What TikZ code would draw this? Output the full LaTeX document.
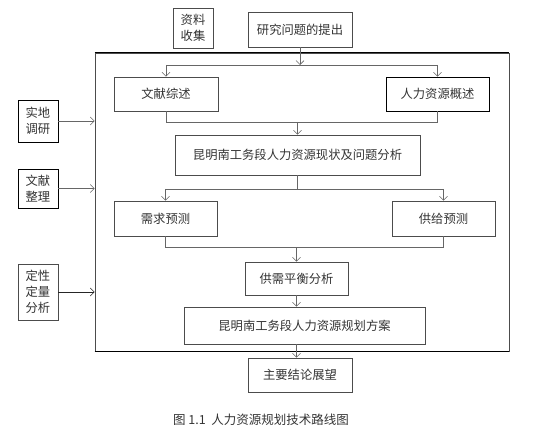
\documentclass[tikz,border=0pt]{standalone}
\usepackage{fontspec}
\newfontfamily\cjk{Noto Sans CJK SC}
\usetikzlibrary{arrows.meta}

\begin{document}
\begin{tikzpicture}[x=1pt, y=-1pt, >={Straight Barb[length=4pt,width=8pt]},
  every node/.style={font=\cjk\fontsize{12.3pt}{16pt}\selectfont, text=black!80},
  box/.style={draw=black!70, line width=0.7pt, inner sep=0pt, align=center},
  link/.style={draw=black!60, line width=0.6pt}]
  \useasboundingbox (0,0) rectangle (533,433);

  % outer frame
  \node[box, minimum width=414pt, minimum height=298pt] (frame) at (302,202) {};
  \draw[black, line width=0.8pt] (frame.north west) -- (frame.north east);
  \draw[black, line width=0.8pt] (frame.south west) -- (frame.south east);

  \node[box, minimum width=40pt, minimum height=40pt] (ziliao) at (193,28) {资料\\收集};
  \node[box, minimum width=104pt, minimum height=35pt] (tichu) at (300,29.5) {研究问题的提出};

  \node[box, minimum width=104pt, minimum height=34pt] (wenxian) at (166,94) {文献综述};
  \node[box, draw=black, minimum width=103pt, minimum height=34pt] (gaishu) at (437.5,94) {人力资源概述};
  \node[box, minimum width=245pt, minimum height=40pt] (xianzhuang) at (297.5,155) {昆明南工务段人力资源现状及问题分析};
  \node[box, minimum width=103pt, minimum height=35pt] (xuqiu) at (165.5,218.5) {需求预测};
  \node[box, minimum width=103pt, minimum height=35pt] (gongji) at (443.5,218.5) {供给预测};
  \node[box, minimum width=103pt, minimum height=33pt] (pingheng) at (296.5,278.5) {供需平衡分析};
  \node[box, minimum width=241pt, minimum height=37pt] (fangan) at (304.5,325.5) {昆明南工务段人力资源规划方案};
  \node[box, minimum width=104pt, minimum height=34pt] (jielun) at (300,375) {主要结论展望};

  \node[box, draw=black, minimum width=40pt, minimum height=42pt] (shidi) at (38,121) {实地\\调研};
  \node[box, draw=black, minimum width=40pt, minimum height=39pt] (zhengli) at (38,188.5) {文献\\整理};
  \node[box, minimum width=40pt, minimum height=56pt] (dingxing) at (38,292) {定性\\定量\\分析};

  \node[font=\cjk\fontsize{12.5pt}{14pt}\selectfont] (caption) at (261,420) {图 1.1\ \ 人力资源规划技术路线图};

  % split and merge points
  \coordinate (fen1) at (0,65);
  \coordinate (he1) at (0,122);
  \coordinate (fen2) at (0,189);
  \coordinate (he2) at (0,247);

  \draw[link, ->] (tichu.south) -- (tichu.south |- fen1);
  \draw[link] (wenxian.north |- fen1) -- (gaishu.north |- fen1);
  \draw[link, ->] (wenxian.north |- fen1) -- (wenxian.north);
  \draw[link, ->] (gaishu.north |- fen1) -- (gaishu.north);

  \draw[link] (wenxian.south) -- (wenxian.south |- he1) -- (gaishu.south |- he1) -- (gaishu.south);
  \draw[link, ->] (xianzhuang.north |- he1) -- (xianzhuang.north);

  \draw[link] (xianzhuang.south) -- (xianzhuang.south |- fen2);
  \draw[link] (xuqiu.north |- fen2) -- (gongji.north |- fen2);
  \draw[link, ->] (xuqiu.north |- fen2) -- (xuqiu.north);
  \draw[link, ->] (gongji.north |- fen2) -- (gongji.north);

  \draw[link] (xuqiu.south) -- (xuqiu.south |- he2) -- (gongji.south |- he2) -- (gongji.south);
  \draw[link, ->] (pingheng.north |- he2) -- (pingheng.north);

  \draw[link, ->] (pingheng.south) -- (pingheng.south |- fangan.north);
  \draw[link, ->] (pingheng.south |- fangan.south) -- (pingheng.south |- jielun.north);

  \draw[link, ->] (shidi.east) -- (shidi.east -| frame.west);
  \draw[link, ->] (zhengli.east) -- (zhengli.east -| frame.west);
  \draw[link, ->, draw=black!85] (dingxing.east) -- (dingxing.east -| frame.west);
\end{tikzpicture}
\end{document}
